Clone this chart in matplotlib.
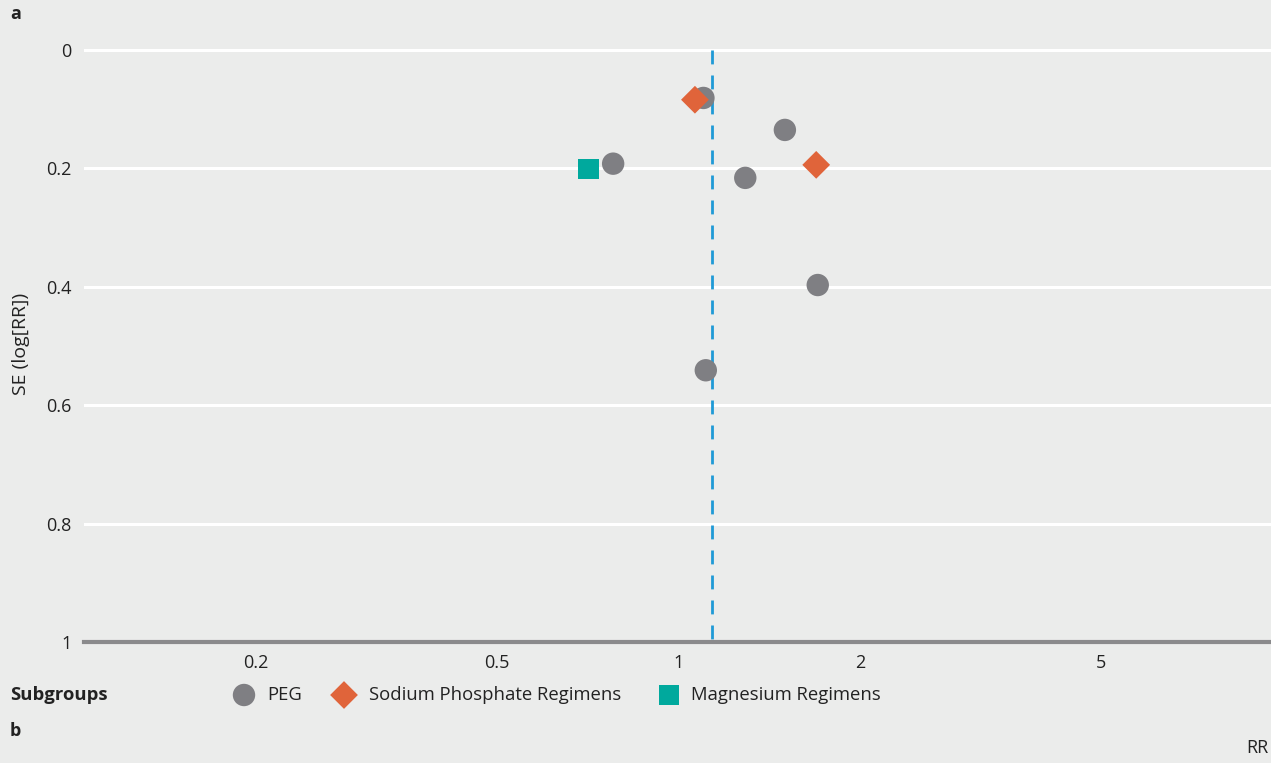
import matplotlib
matplotlib.use("Agg")
import matplotlib.pyplot as plt

plt.rcParams['font.family'] = ['Open Sans', 'DejaVu Sans']

# Study estimates: risk ratio and standard error of log(RR)
peg_rr = [1.10, 1.50, 0.78, 1.29, 1.70, 1.11]
peg_se = [0.081, 0.135, 0.192, 0.216, 0.397, 0.541]
sodium_rr = [1.065, 1.69]
sodium_se = [0.084, 0.194]
magnesium_rr = [0.71]
magnesium_se = [0.201]
pooled_rr = 1.135

x_ticks = [0.2, 0.5, 1, 2, 5]
x_tick_labels = ["0.2", "0.5", "1", "2", "5"]
y_ticks = [0, 0.2, 0.4, 0.6, 0.8, 1]
y_tick_labels = ["0", "0.2", "0.4", "0.6", "0.8", "1"]
legend_labels = ["PEG", "Sodium Phosphate Regimens", "Magnesium Regimens"]

bg = "#ebeceb"
grey = "#7f7f83"
orange = "#e0643a"
teal = "#00a99d"
blue = "#1f9ad6"
ink = "#222222"

W, H = 1271, 763
fig = plt.figure(figsize=(W / 100, H / 100), dpi=100, facecolor=bg)
ax = fig.add_axes([84 / W, 1 - 642 / H, 1 - 84 / W, (642 - 20) / H])
ax.set_facecolor(bg)

ax.set_xscale("log")
ax.set_xlim(0.104, 9.55)
ax.set_ylim(1, -30 / 592)

for yv in y_ticks[:-1]:
    ax.axhline(yv, color="white", lw=2.2, zorder=1)

ax.plot([pooled_rr, pooled_rr], [0, 1], color=blue, lw=2, ls=(0, (5, 4)), zorder=2)

ax.scatter(peg_rr, peg_se, s=260, marker="o", color=grey, edgecolors="none", zorder=3)
ax.scatter(sodium_rr, sodium_se, s=200, marker="D", color=orange, edgecolors="none", zorder=4)
ax.scatter(magnesium_rr, magnesium_se, s=210, marker="s", color=teal, edgecolors="none", zorder=4)

for side in ["top", "right", "left"]:
    ax.spines[side].set_visible(False)
ax.spines["bottom"].set_color("#8a8a8c")
ax.spines["bottom"].set_linewidth(3)

ax.set_xticks(x_ticks)
ax.set_xticklabels(x_tick_labels)
ax.xaxis.set_minor_locator(matplotlib.ticker.NullLocator())
ax.set_yticks(y_ticks)
ax.set_yticklabels(y_tick_labels)
ax.tick_params(axis="both", length=0, labelsize=13, colors=ink)
ax.tick_params(axis="x", pad=9)
ax.tick_params(axis="y", pad=9)

fig.text(21 / W, 1 - 344 / H, "SE (log[RR])", rotation=90, ha="center", va="center",
         fontsize=14, color=ink)
fig.text(1 - 3 / W, 1 - 748 / H, "RR", ha="right", va="center", fontsize=13, color=ink)
fig.text(10 / W, 1 - 14 / H, "a", ha="left", va="center", fontsize=13, fontweight="bold", color=ink)
fig.text(10 / W, 1 - 731 / H, "b", ha="left", va="center", fontsize=13, fontweight="bold", color=ink)

# Legend row drawn on a pixel-space overlay
leg_ax = fig.add_axes([0, 0, 1, 1], facecolor="none")
leg_ax.set_xlim(0, W)
leg_ax.set_ylim(H, 0)
leg_ax.axis("off")
leg_y = 695
leg_ax.text(10, leg_y, "Subgroups", ha="left", va="center", fontsize=13.3, fontweight="bold", color=ink)
leg_items = [
    (244, "o", grey, 260, 267),
    (344, "D", orange, 200, 369),
    (669, "s", teal, 210, 691),
]
for (mx, mk, col, sz, tx), label in zip(leg_items, legend_labels):
    leg_ax.scatter([mx], [leg_y], s=sz, marker=mk, color=col, edgecolors="none")
    leg_ax.text(tx, leg_y, label, ha="left", va="center", fontsize=13.3, color=ink)

fig.savefig("out.png", dpi=100, facecolor=bg)
